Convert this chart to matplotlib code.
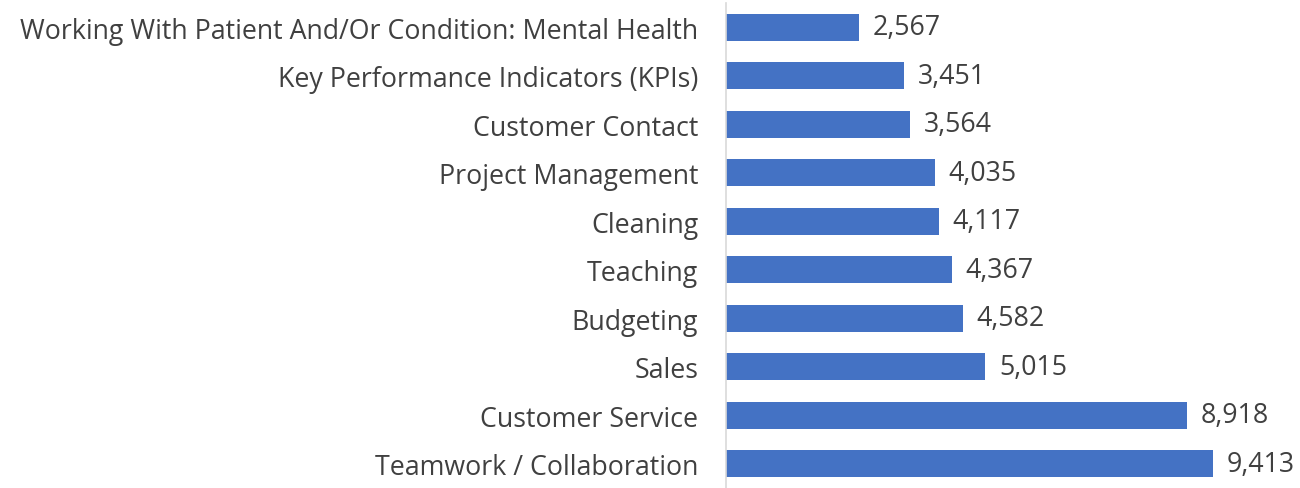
import matplotlib
matplotlib.use("Agg")
import matplotlib.pyplot as plt

# skills, listed bottom to top
skills = ["Teamwork / Collaboration", "Customer Service", "Sales", "Budgeting",
          "Teaching", "Cleaning", "Project Management", "Customer Contact",
          "Key Performance Indicators (KPIs)",
          "Working With Patient And/Or Condition: Mental Health"]
counts = [9413, 8918, 5015, 4582, 4367, 4117, 4035, 3564, 3451, 2567]

plt.rcParams['font.family'] = ['Open Sans', 'DejaVu Sans']
TXT = "#404040"
FS = 19.3

fig = plt.figure(figsize=(13, 4.89), dpi=100)
ax = fig.add_axes([726/1300, 0.0, (1243-726)/1300, 1 - 4/489])

y = range(len(skills))
ax.barh(y, counts, height=0.55, color="#4472C4")
ax.set_ylim(-0.5, len(skills) - 0.5)
ax.set_xlim(0, 10000)

for yi, v in zip(y, counts):
    ax.annotate(f"{v:,}", (v, yi), xytext=(10, 0), textcoords="offset points",
                va="center", ha="left", fontsize=FS, color=TXT)

ax.set_yticks(list(y))
ax.set_yticklabels(skills, fontsize=FS, color=TXT)
ax.tick_params(axis="y", length=0, pad=20)
ax.set_xticks([])
for s in ["top", "right", "bottom"]:
    ax.spines[s].set_visible(False)
ax.spines["left"].set_color("#D9D9D9")
ax.spines["left"].set_linewidth(1.2)

fig.savefig("out.png", dpi=100)
